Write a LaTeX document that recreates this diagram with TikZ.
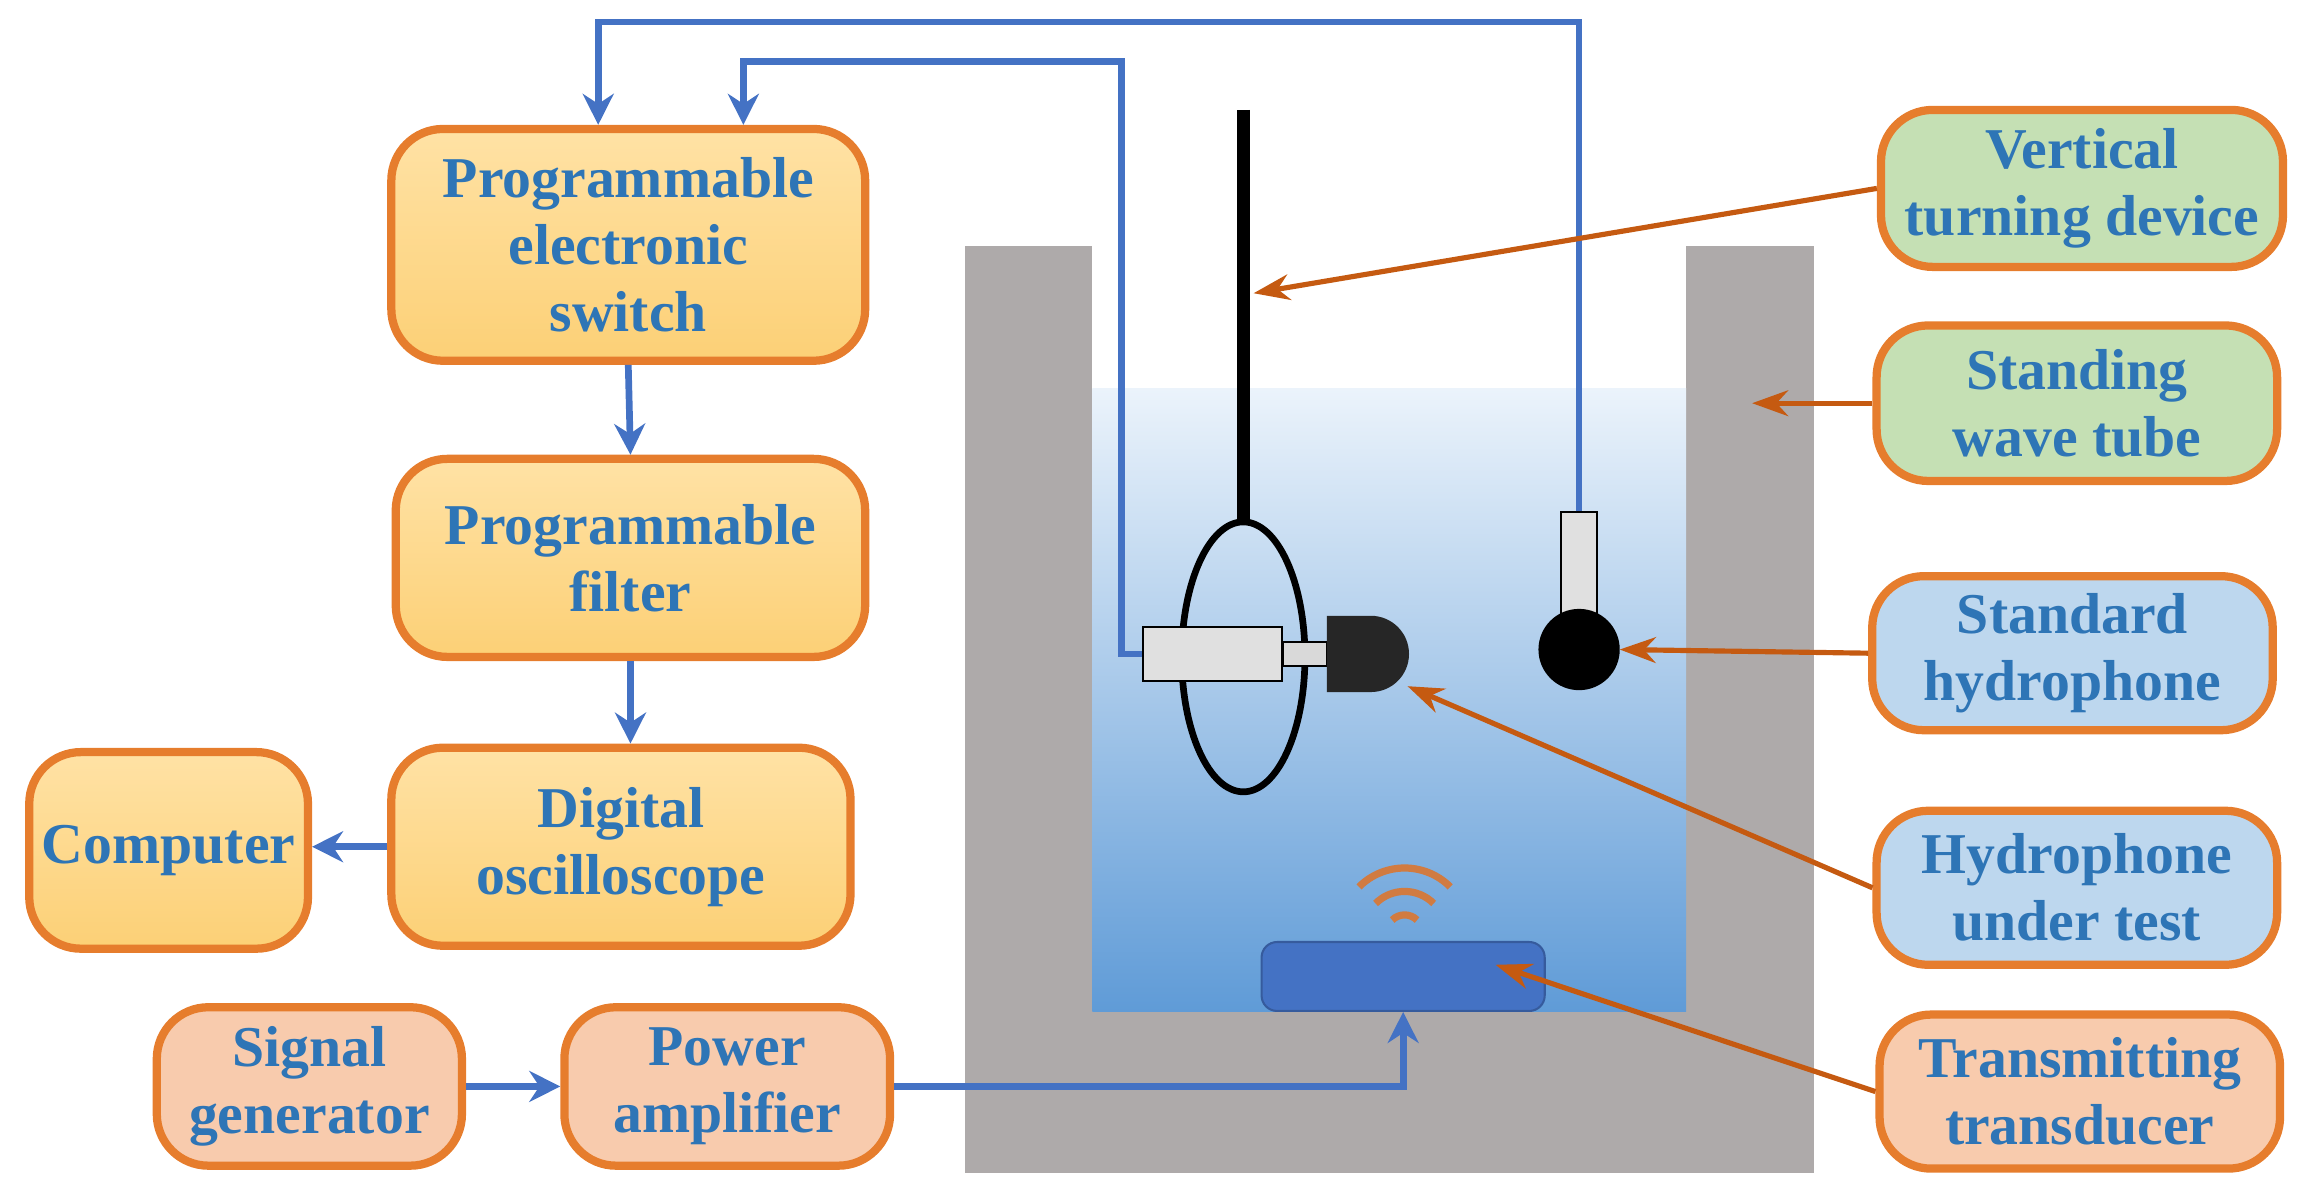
\documentclass[tikz,border=0pt]{standalone}
\usepackage{fontspec}
\setmainfont{Liberation Serif}
\usetikzlibrary{positioning, arrows.meta, shapes.geometric, calc}
\definecolor{txtblue}{RGB}{46,117,182}
\definecolor{wireblue}{RGB}{68,114,196}
\definecolor{boxline}{RGB}{230,125,45}
\definecolor{arrorange}{RGB}{197,90,17}
\definecolor{orgtop}{RGB}{255,226,165}
\definecolor{orgbot}{RGB}{252,208,118}
\definecolor{greenbox}{RGB}{197,224,180}
\definecolor{bluebox}{RGB}{189,215,238}
\definecolor{salmon}{RGB}{248,203,173}
\definecolor{wallgray}{RGB}{174,170,170}
\definecolor{waterbot}{RGB}{95,155,215}
\definecolor{watertop}{RGB}{235,243,251}
\begin{document}
\begin{tikzpicture}[x=0.01cm, y=-0.01cm]
\tikzstyle{box}=[draw=boxline, line width=1.6pt, rounded corners=10pt, align=center, text=txtblue, font=\fontsize{11.2}{13}\selectfont\bfseries, inner sep=1pt]
\tikzstyle{obox}=[box, top color=orgtop, bottom color=orgbot]
\tikzstyle{wire}=[draw=wireblue, line width=1.3pt, -{Stealth[length=6pt,width=6pt]}]
\tikzstyle{lbl}=[draw=arrorange, line width=1pt, -{Stealth[length=7pt,width=5pt]}]

\useasboundingbox (0,0) rectangle (1568,815);

% tank
\fill[wallgray] (658,168) rectangle (1237,800);
\fill[white] (745,168) rectangle (1150,265);
\shade[top color=watertop, bottom color=waterbot] (745,265) rectangle (1150,690);

% turning device
\draw[line width=2.5pt] (848,75) -- (848,356);
\node[draw, ellipse, line width=1.3pt, minimum width=0.84cm, minimum height=1.84cm] (ring) at (848,448) {};

% hydrophone under test
\node[draw, fill=black!12, minimum width=0.95cm, minimum height=0.37cm, inner sep=0] (hcyl) at (827,446) {};
\node[draw, fill=black!15, minimum width=0.3cm, minimum height=0.16cm, inner sep=0] (hneck) at (890,446) {};
\fill[black!85] (905,420) -- (935,420) arc (-90:90:26) -- (905,472) -- cycle;
\coordinate (hdome) at (960,468);

% standard hydrophone
\node[draw, fill=black!12, minimum width=0.25cm, minimum height=0.75cm, inner sep=0] (shstem) at (1077,387) {};
\node[draw, circle, fill=black, minimum size=0.54cm, inner sep=0] (shball) at (1077,443) {};

% transducer
\node[draw=wireblue!80!black, fill=wireblue, rounded corners=3pt, minimum width=1.93cm, minimum height=0.47cm] (trans) at (957,666) {};
\foreach \r in {12,28,44}
  \draw[arrorange!80, line width=1.4pt] ($(958,636)+(-45:\r)$) arc (-45:-135:\r);

% left boxes
\node[obox, minimum width=3.23cm, minimum height=1.58cm] (pes) at (428.5,167) {Programmable\\electronic\\switch};
\node[obox, minimum width=3.2cm, minimum height=1.35cm] (pf) at (430,380.5) {Programmable\\filter};
\node[obox, minimum width=3.13cm, minimum height=1.35cm] (osc) at (423.5,577.5) {Digital\\oscilloscope};
\node[obox, minimum width=1.9cm, minimum height=1.34cm] (comp) at (115,580) {Computer};
\node[box, fill=salmon, minimum width=2.08cm, minimum height=1.08cm] (sig) at (211,741) {Signal\\generator};
\node[box, fill=salmon, minimum width=2.22cm, minimum height=1.08cm] (amp) at (496,741) {Power\\amplifier};

% right boxes
\node[box, fill=greenbox, minimum width=2.74cm, minimum height=1.07cm] (vtd) at (1420,128.5) {Vertical\\turning device};
\node[box, fill=greenbox, minimum width=2.73cm, minimum height=1.06cm] (swt) at (1416.5,275) {Standing\\wave tube};
\node[box, fill=bluebox, minimum width=2.73cm, minimum height=1.05cm] (stdh) at (1413.5,445.5) {Standard\\hydrophone};
\node[box, fill=bluebox, minimum width=2.73cm, minimum height=1.05cm] (hut) at (1416.5,605.5) {Hydrophone\\under test};
\node[box, fill=salmon, minimum width=2.73cm, minimum height=1.05cm] (tt) at (1418.5,744.5) {Transmitting\\transducer};

% wires
\coordinate (w1) at (408,15);
\coordinate (w2) at (507,42);
\coordinate (w3) at (765,42);
\draw[wire] (shstem.north) |- (w1) -- (w1 |- pes.north);
\draw[wire] (hcyl.west) -| (w3) -- (w2) -- (w2 |- pes.north);
\draw[wire] (pes.south) -- (pf.north);
\draw[wire] (pf.south) -- (pf.south |- osc.north);
\draw[wire] (osc.west) -- (comp.east |- osc.west);
\draw[wire] (sig.east) -- (amp.west);
\draw[wire] (amp.east) -| (trans.south);

% labels
\coordinate (rod) at (855,200);
\coordinate (wall) at (1195,275);
\coordinate (tpad) at (1020,658);
\draw[lbl] (vtd.west) -- (rod);
\draw[lbl] (swt.west) -- (wall);
\draw[lbl] (stdh.west) -- (shball.east);
\draw[lbl] (hut.west) -- (hdome);
\draw[lbl] (tt.west) -- (tpad);
\end{tikzpicture}
\end{document}
